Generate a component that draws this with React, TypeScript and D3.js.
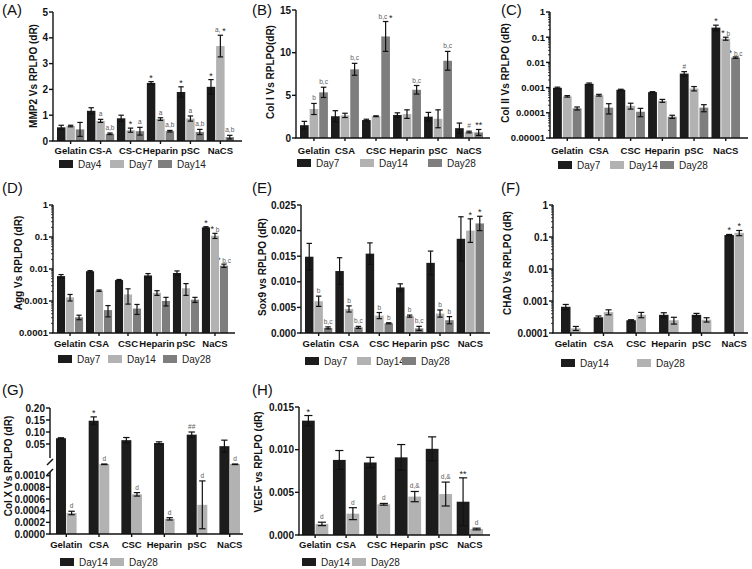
import { useEffect, useRef } from 'react';
import * as d3 from "d3";

const FONT = "'Liberation Sans', Arial, Helvetica, sans-serif";
const DARK = "#1c1c1c";
const LIGHT = "#b2b2b2";
const MID = "#7e7e7e";

// categories / series
const catsA = ["Gelatin", "CS-A", "CS-C", "Heparin", "pSC", "NaCS"];
const cats = ["Gelatin", "CSA", "CSC", "Heparin", "pSC", "NaCS"];
const seriesA = ["Day4", "Day7", "Day14"];
const series3 = ["Day7", "Day14", "Day28"];
const series2 = ["Day14", "Day28"];

// (A) MMP2
const mmp2Mean = [
    [0.53, 1.17, 0.88, 2.25, 1.9, 2.1],
    [0.58, 0.78, 0.42, 0.85, 0.87, 3.68],
    [0.45, 0.28, 0.38, 0.38, 0.35, 0.15],
];
const mmp2Err = [
    [0.08, 0.12, 0.12, 0.05, 0.2, 0.28],
    [0.03, 0.06, 0.08, 0.05, 0.1, 0.42],
    [0.27, 0.03, 0.15, 0.03, 0.1, 0.07],
];
const mmp2Marks = [
    ["", "", "", "*", "*", "*"],
    ["", "a", "*", "a", "a", "a, *"],
    ["", "a,b", "a", "a,b", "a,b", "a,b"],
];
const mmp2Ticks = [0, 1, 2, 3, 4, 5];

// (B) Col I
const col1Mean = [
    [1.5, 2.55, 2.1, 2.7, 2.5, 1.15],
    [3.4, 2.65, 2.55, 2.8, 2.25, 0.7],
    [5.35, 8.05, 11.9, 5.65, 9.05, 0.65],
];
const col1Err = [
    [0.45, 0.65, 0.1, 0.25, 0.5, 0.6],
    [0.65, 0.25, 0.05, 0.5, 1.05, 0.1],
    [0.6, 0.7, 1.75, 0.5, 1.1, 0.35],
];
const col1Marks = [
    ["", "", "", "", "", ""],
    ["b", "", "", "", "", "#"],
    ["b,c", "b,c", "b,c *", "b,c", "b,c", "**"],
];
const col1Ticks = [0, 5, 10, 15];

// (C) Col II
const col2Mean = [
    [0.00098, 0.00142, 0.00082, 0.00066, 0.0036, 0.24],
    [0.00045, 0.0005, 0.00019, 0.0003, 0.00092, 0.088],
    [0.00015, 0.00016, 0.00011, 0.00007, 0.00016, 0.0155],
];
const col2Err = [
    [0.00006, 0.0001, 0.00004, 0.00003, 0.0007, 0.06],
    [0.00003, 0.00004, 0.00005, 0.00004, 0.00018, 0.012],
    [0.00002, 0.00007, 0.00004, 0.00001, 0.00005, 0.001],
];
const col2Marks = [
    ["", "", "", "", "#", "*"],
    ["", "", "", "", "", "* b"],
    ["", "", "", "", "", "* b,c"],
];
const col2Ticks = [0.00001, 0.0001, 0.001, 0.01, 0.1, 1];

// (D) Agg
const aggMean = [
    [0.006, 0.0085, 0.0045, 0.0063, 0.0075, 0.2],
    [0.0013, 0.0021, 0.0016, 0.0018, 0.0025, 0.11],
    [0.00031, 0.00052, 0.00058, 0.001, 0.0011, 0.0127],
];
const aggErr = [
    [0.0007, 0.0004, 0.0002, 0.0009, 0.0012, 0.01],
    [0.0003, 0.0001, 0.0008, 0.0003, 0.001, 0.02],
    [0.00005, 0.0002, 0.0002, 0.0003, 0.0002, 0.0015],
];
const aggMarks = [
    ["", "", "", "", "", "*"],
    ["", "", "", "", "", "* b"],
    ["", "", "", "", "", "* b,c"],
];
const aggTicks = [0.0001, 0.001, 0.01, 0.1, 1];

// (E) Sox9
const sox9Mean = [
    [0.0149, 0.0121, 0.0155, 0.0089, 0.0137, 0.0184],
    [0.0062, 0.0047, 0.0034, 0.0033, 0.0038, 0.02],
    [0.001, 0.0011, 0.0019, 0.0009, 0.0025, 0.0214],
];
const sox9Err = [
    [0.0026, 0.0026, 0.0021, 0.0007, 0.0023, 0.0043],
    [0.001, 0.0006, 0.0006, 0.0002, 0.0007, 0.0023],
    [0.0002, 0.0002, 0.0001, 0.0004, 0.0007, 0.0014],
];
const sox9Marks = [
    ["", "", "", "", "", ""],
    ["b", "b", "b", "b", "b", "*"],
    ["b,c", "b,c", "b", "b,c", "b", "*"],
];
const sox9Ticks = [0, 0.005, 0.01, 0.015, 0.02, 0.025];

// (F) CHAD
const chadMean = [
    [0.00066, 0.00031, 0.00025, 0.00037, 0.00037, 0.115],
    [0.00014, 0.00045, 0.00037, 0.00025, 0.00026, 0.135],
];
const chadErr = [
    [0.00012, 0.00003, 0.00001, 0.00006, 0.00004, 0.005],
    [0.00002, 0.00008, 0.00007, 0.00006, 0.00004, 0.025],
];
const chadMarks = [
    ["", "", "", "", "", "*"],
    ["", "", "", "", "", "*"],
];
const chadTicks = [0.0001, 0.001, 0.01, 0.1, 1];

// (G) Col X (broken axis: low segment + high segment)
const col10Mean = [
    [0.074, 0.147, 0.066, 0.054, 0.089, 0.041],
    [0.00036, 0.0012, 0.00068, 0.00026, 0.0005, 0.0012],
];
const col10Err = [
    [0.002, 0.016, 0.011, 0.005, 0.011, 0.025],
    [0.00003, 0.00001, 0.00003, 0.00002, 0.00041, 0.00001],
];
const col10Marks = [
    ["", "*", "", "", "##", ""],
    ["d", "d", "d", "d", "d", "d"],
];
const col10LowTicks = [0, 0.0002, 0.0004, 0.0006, 0.0008, 0.001];
const col10HighTicks = [0.05, 0.1, 0.15, 0.2];

// (H) VEGF
const vegfMean = [
    [0.0134, 0.0088, 0.0085, 0.0091, 0.0101, 0.0039],
    [0.0013, 0.0025, 0.0036, 0.0045, 0.0048, 0.0007],
];
const vegfErr = [
    [0.0006, 0.0011, 0.0006, 0.0015, 0.0014, 0.0028],
    [0.0002, 0.0007, 0.0001, 0.0006, 0.0014, 0.0001],
];
const vegfMarks = [
    ["*", "", "", "", "", "**"],
    ["d", "d", "d", "d,&", "d,&", "d"],
];
const vegfTicks = [0, 0.005, 0.01, 0.015];

interface Layout {
    axisX: number; right: number; top: number; bottom: number;
    barL: number; barR: number; pad: number; innerPad: number;
    catY: number; legendY: number; legendX: number[];
    titleX: number; titleY: number; tagX: number; tagY: number;
    tickSize: number;
}

interface PanelCfg {
    tag: string;
    yTitle: string;
    categories: string[];
    series: string[];
    means: number[][];
    errors: number[][];
    marks: string[][];
    kind: "linear" | "log" | "broken";
    domain: number[];
    ticks: number[];
    fmt: string;
    layout: Layout;
}

const panels: PanelCfg[] = [
    {
        tag: "(A)", yTitle: "MMP2 Vs RPLPO (dR)", categories: catsA, series: seriesA,
        means: mmp2Mean, errors: mmp2Err, marks: mmp2Marks, kind: "linear", domain: [0, 5], ticks: mmp2Ticks, fmt: "d",
        layout: { axisX: 53, right: 242, top: 12, bottom: 141, barL: 57, barR: 234, pad: 0.09, innerPad: 0.1,
            catY: 154, legendY: 164, legendX: [59, 110, 158], titleX: 33, titleY: 76, tagX: 2, tagY: 15, tickSize: 10 },
    },
    {
        tag: "(B)", yTitle: "Col I Vs RPLPO(dR)", categories: cats, series: series3,
        means: col1Mean, errors: col1Err, marks: col1Marks, kind: "linear", domain: [0, 15], ticks: col1Ticks, fmt: "d",
        layout: { axisX: 296, right: 490, top: 10, bottom: 138, barL: 300, barR: 483, pad: 0.1, innerPad: 0.1,
            catY: 154, legendY: 163, legendX: [297, 360, 428], titleX: 270, titleY: 72, tagX: 252, tagY: 15, tickSize: 10 },
    },
    {
        tag: "(C)", yTitle: "Col II Vs RPLPO (dR)", categories: cats, series: series3,
        means: col2Mean, errors: col2Err, marks: col2Marks, kind: "log", domain: [0.00001, 1], ticks: col2Ticks, fmt: "~f",
        layout: { axisX: 550, right: 748, top: 12, bottom: 138, barL: 553, barR: 740, pad: 0.1, innerPad: 0.1,
            catY: 154, legendY: 165, legendX: [558, 610, 660], titleX: 505, titleY: 73, tagX: 501, tagY: 15, tickSize: 9.5 },
    },
    {
        tag: "(D)", yTitle: "Agg Vs RPLPO (dR)", categories: cats, series: series3,
        means: aggMean, errors: aggErr, marks: aggMarks, kind: "log", domain: [0.0001, 1], ticks: aggTicks, fmt: "~f",
        layout: { axisX: 53, right: 235, top: 205, bottom: 333, barL: 57, barR: 228, pad: 0.1, innerPad: 0.1,
            catY: 347, legendY: 359, legendX: [58, 108, 163], titleX: 18, titleY: 263, tagX: 2, tagY: 193, tickSize: 9.5 },
    },
    {
        tag: "(E)", yTitle: "Sox9 vs RPLPO (dR)", categories: cats, series: series3,
        means: sox9Mean, errors: sox9Err, marks: sox9Marks, kind: "linear", domain: [0, 0.025], ticks: sox9Ticks, fmt: ".3f",
        layout: { axisX: 301, right: 490, top: 205, bottom: 333, barL: 305, barR: 484, pad: 0.1, innerPad: 0.1,
            catY: 347, legendY: 361, legendX: [305, 357, 402], titleX: 262, titleY: 267, tagX: 252, tagY: 193, tickSize: 10 },
    },
    {
        tag: "(F)", yTitle: "CHAD Vs RPLPO (dR)", categories: cats, series: series2,
        means: chadMean, errors: chadErr, marks: chadMarks, kind: "log", domain: [0.0001, 1], ticks: chadTicks, fmt: "~f",
        layout: { axisX: 553, right: 748, top: 205, bottom: 333, barL: 561, barR: 744, pad: 0.4, innerPad: 0.06,
            catY: 347, legendY: 363, legendX: [561, 637], titleX: 507, titleY: 263, tagX: 501, tagY: 193, tickSize: 10 },
    },
    {
        tag: "(G)", yTitle: "Col X Vs RPLPO (dR)", categories: cats, series: series2,
        means: col10Mean, errors: col10Err, marks: col10Marks, kind: "broken", domain: [0, 0.0012, 0, 0.2], ticks: col10LowTicks, fmt: ".4f",
        layout: { axisX: 50, right: 243, top: 408, bottom: 534, barL: 56, barR: 240, pad: 0.37, innerPad: 0.06,
            catY: 548, legendY: 562, legendX: [60, 110], titleX: 8, titleY: 466, tagX: 2, tagY: 395, tickSize: 10 },
    },
    {
        tag: "(H)", yTitle: "VEGF vs RPLPO (dR)", categories: cats, series: series2,
        means: vegfMean, errors: vegfErr, marks: vegfMarks, kind: "linear", domain: [0, 0.015], ticks: vegfTicks, fmt: ".3f",
        layout: { axisX: 299, right: 490, top: 407, bottom: 535, barL: 302, barR: 483, pad: 0.15, innerPad: 0.06,
            catY: 548, legendY: 562, legendX: [302, 352], titleX: 258, titleY: 462, tagX: 252, tagY: 395, tickSize: 10 },
    },
];

// pixel limits of the two segments of panel G
const brokenLowTop = 464;
const brokenHighBottom = 456;

function makeY(cfg: PanelCfg): (v: number) => number {
    const L = cfg.layout;
    if (cfg.kind === "log") {
        const s = d3.scaleLog().domain([cfg.domain[0], cfg.domain[1]]).range([L.bottom, L.top]).clamp(true);
        return (v: number) => s(Math.max(v, cfg.domain[0]));
    }
    if (cfg.kind === "broken") {
        const low = d3.scaleLinear().domain([cfg.domain[0], cfg.domain[1]]).range([L.bottom, brokenLowTop]).clamp(true);
        const high = d3.scaleLinear().domain([cfg.domain[2], cfg.domain[3]]).range([brokenHighBottom, L.top]);
        return (v: number) => (v <= cfg.domain[1] ? low(v) : v < 0.01 ? low(cfg.domain[1]) : high(v));
    }
    const s = d3.scaleLinear().domain(cfg.domain).range([L.bottom, L.top]);
    return (v: number) => s(v);
}

function drawPanel(svg: d3.Selection<SVGSVGElement, unknown, null, undefined>, cfg: PanelCfg) {
    const L = cfg.layout;
    const g = svg.append("g").attr("font-family", FONT);
    const colors = cfg.series.length === 3 ? [DARK, LIGHT, MID] : [DARK, LIGHT];

    const x0 = d3.scaleBand().domain(cfg.categories).range([L.barL, L.barR]).paddingInner(L.pad).paddingOuter(0);
    const x1 = d3.scaleBand().domain(cfg.series).range([0, x0.bandwidth()]).paddingInner(L.innerPad);
    const y = makeY(cfg);
    const bw = x1.bandwidth();
    const notes = g.append("g").attr("opacity", 0.99);

    // bars + error bars + marks
    cfg.series.forEach((s, si) => {
        cfg.categories.forEach((c, ci) => {
            const m = cfg.means[si][ci];
            const e = cfg.errors[si][ci];
            const bx = (x0(c) || 0) + (x1(s) || 0);
            const cx = bx + bw / 2;
            g.append("rect")
                .attr("x", bx).attr("y", y(m))
                .attr("width", bw).attr("height", L.bottom - y(m))
                .attr("fill", colors[si]);

            const yHi = y(m + e);
            const yLo = y(m - e > 0 ? m - e : (cfg.kind === "log" ? cfg.domain[0] : 0));
            const cap = bw * 0.32;
            g.append("line").attr("x1", cx).attr("x2", cx).attr("y1", yHi).attr("y2", yLo)
                .attr("stroke", "#111").attr("stroke-width", 1.2);
            [yHi, yLo].forEach(yy => {
                g.append("line").attr("x1", cx - cap).attr("x2", cx + cap).attr("y1", yy).attr("y2", yy)
                    .attr("stroke", "#111").attr("stroke-width", 1.2);
            });

            const mark = cfg.marks[si][ci];
            if (mark) {
                const t = notes.append("text").attr("x", cx).attr("y", yHi - 3).attr("text-anchor", "middle");
                mark.split(/(\*+)/).filter(p => p.length).forEach(part => {
                    const star = part.startsWith("*");
                    t.append("tspan")
                        .attr("font-size", star ? 9 : 6.5)
                        .attr("fill", star ? "#222" : "#5a5a5a")
                        .attr("dy", star ? 2 : 0)
                        .text(part);
                });
            }
        });
    });

    // y axis
    const axis = g.append("g").attr("stroke", "#111").attr("stroke-width", 1.4);
    const tickLabel = (v: number, yy: number, f: string) => {
        g.append("text").attr("x", L.axisX - 5).attr("y", yy).attr("dy", "0.35em")
            .attr("text-anchor", "end").attr("font-size", L.tickSize).attr("font-weight", "bold").attr("fill", "#111")
            .text(d3.format(f)(v));
        axis.append("line").attr("x1", L.axisX - 4).attr("x2", L.axisX).attr("y1", yy).attr("y2", yy);
    };

    if (cfg.kind === "broken") {
        axis.append("line").attr("x1", L.axisX).attr("x2", L.axisX).attr("y1", L.top).attr("y2", brokenHighBottom + 2);
        axis.append("line").attr("x1", L.axisX).attr("x2", L.axisX).attr("y1", brokenLowTop + 8).attr("y2", L.bottom);
        axis.append("line").attr("x1", L.axisX - 3).attr("x2", L.axisX + 3).attr("y1", brokenHighBottom + 9).attr("y2", brokenHighBottom + 3);
        axis.append("line").attr("x1", L.axisX - 3).attr("x2", L.axisX + 3).attr("y1", brokenLowTop + 11).attr("y2", brokenLowTop + 5);
        cfg.ticks.forEach(v => tickLabel(v, y(v), cfg.fmt));
        col10HighTicks.forEach(v => tickLabel(v, y(v), ".2f"));
    } else {
        axis.append("line").attr("x1", L.axisX).attr("x2", L.axisX).attr("y1", L.top).attr("y2", L.bottom);
        cfg.ticks.forEach(v => tickLabel(v, y(v), cfg.fmt));
        if (cfg.kind === "log") {
            const lo = Math.round(Math.log10(cfg.domain[0]));
            const hi = Math.round(Math.log10(cfg.domain[1]));
            for (let k = lo; k < hi; k++) {
                for (let j = 2; j <= 9; j++) {
                    const yy = y(j * Math.pow(10, k));
                    axis.append("line").attr("x1", L.axisX - 2).attr("x2", L.axisX).attr("y1", yy).attr("y2", yy)
                        .attr("stroke-width", 0.8);
                }
            }
        }
    }

    // x axis
    axis.append("line").attr("x1", L.axisX - 0.7).attr("x2", L.right).attr("y1", L.bottom).attr("y2", L.bottom);
    cfg.categories.forEach(c => {
        const cx = (x0(c) || 0) + x0.bandwidth() / 2;
        axis.append("line").attr("x1", cx).attr("x2", cx).attr("y1", L.bottom).attr("y2", L.bottom + 3);
        g.append("text").attr("x", cx).attr("y", L.catY).attr("text-anchor", "middle")
            .attr("font-size", 9.5).attr("font-weight", "bold").attr("fill", "#111").text(c);
    });

    // y title
    g.append("text")
        .attr("transform", `translate(${L.titleX}, ${L.titleY}) rotate(-90)`)
        .attr("text-anchor", "middle").attr("dy", "0.35em")
        .attr("font-size", 10).attr("font-weight", "bold").attr("fill", "#111")
        .text(cfg.yTitle);

    // panel tag
    g.append("text").attr("x", L.tagX).attr("y", L.tagY)
        .attr("font-size", 15).attr("fill", "#111").text(cfg.tag);

    // legend
    cfg.series.forEach((s, si) => {
        g.append("rect").attr("x", L.legendX[si]).attr("y", L.legendY - 4)
            .attr("width", 14).attr("height", 8).attr("fill", colors[si]);
        g.append("text").attr("x", L.legendX[si] + 19).attr("y", L.legendY).attr("dy", "0.35em")
            .attr("font-size", 10).attr("fill", "#222").text(s);
    });
}

const App: React.FC = () => {
    const ref = useRef<SVGSVGElement | null>(null);

    useEffect(() => {
        if (!ref.current) return;
        const svg = d3.select(ref.current);
        svg.selectAll("*").remove();
        svg.append("rect").attr("width", 752).attr("height", 569).attr("fill", "white");
        panels.forEach(p => drawPanel(svg, p));
    }, []);

    return (
        <svg ref={ref} width={752} height={569}
            style={{ position: "absolute", left: 0, top: 0, display: "block" }}></svg>
    );
};

export default App;
